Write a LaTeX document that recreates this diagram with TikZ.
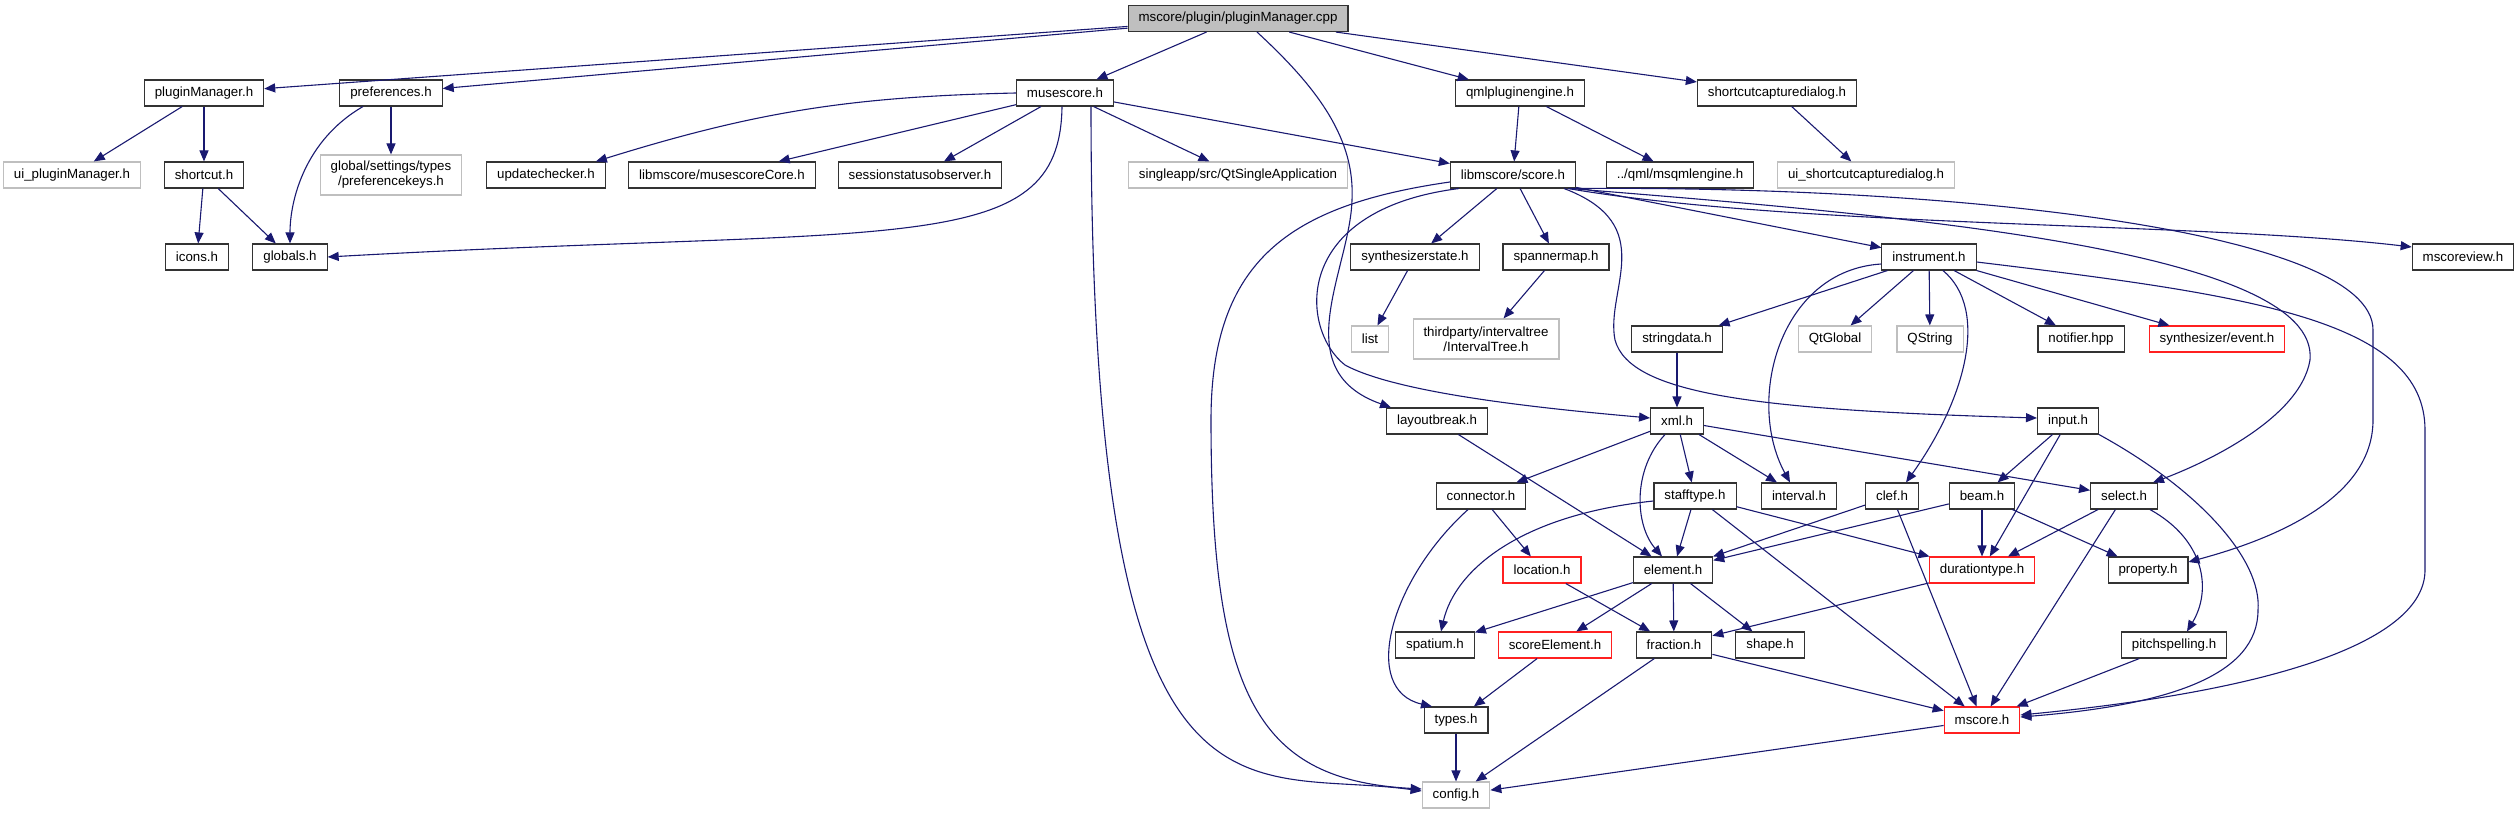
\documentclass[tikz,border=0pt]{standalone}
\usepackage{fontspec}
\setmainfont{Liberation Sans}
\usetikzlibrary{arrows.meta}
\definecolor{edgeblue}{HTML}{191970}
\definecolor{boxgray}{HTML}{BFBFBF}
\definecolor{boxred}{HTML}{FF2020}
\begin{document}
\begin{tikzpicture}[x=1pt, y=-1pt, font=\fontsize{13.3}{15}\selectfont,
  hfile/.style={draw=black!80, line width=1.1pt, fill=white, inner xsep=10.5pt, inner ysep=2pt, minimum height=26pt, align=center},
  sysfile/.style={hfile, draw=boxgray},
  redfile/.style={hfile, draw=boxred},
  srcfile/.style={hfile, fill=boxgray},
  twoline/.style={minimum height=40pt},
  incl/.style={draw=edgeblue, line width=1.1pt, -{Triangle[length=11pt, width=9pt]}}]
  \useasboundingbox (0,0) rectangle (2520,813);

  \node[srcfile] (cpp) at (1238,18.5) {mscore/plugin/pluginManager.cpp};
  \node[hfile] (pmh) at (204,93) {pluginManager.h};
  \node[hfile] (prefs) at (391,93) {preferences.h};
  \node[hfile] (muse) at (1065,93) {musescore.h};
  \node[hfile] (qmleng) at (1520,93) {qmlpluginengine.h};
  \node[hfile] (sccd) at (1777,93) {shortcutcapturedialog.h};
  \node[sysfile] (uipm) at (72,175) {ui\_pluginManager.h};
  \node[hfile] (shortcut) at (204,175) {shortcut.h};
  \node[sysfile, twoline] (prefkeys) at (391,175) {global/settings/types\\/preferencekeys.h};
  \node[hfile] (updchk) at (546,175) {updatechecker.h};
  \node[hfile] (msccore) at (722,175) {libmscore/musescoreCore.h};
  \node[hfile] (sessobs) at (920,175) {sessionstatusobserver.h};
  \node[sysfile] (qtsingle) at (1238,175) {singleapp/src/QtSingleApplication};
  \node[hfile] (score) at (1513,175) {libmscore/score.h};
  \node[hfile] (msqml) at (1680,175) {../qml/msqmlengine.h};
  \node[sysfile] (uisccd) at (1866,175) {ui\_shortcutcapturedialog.h};
  \node[hfile] (icons) at (197,257) {icons.h};
  \node[hfile] (globals) at (290,257) {globals.h};
  \node[hfile] (synthstate) at (1415,257) {synthesizerstate.h};
  \node[hfile] (spanmap) at (1556,257) {spannermap.h};
  \node[hfile] (instr) at (1929,257) {instrument.h};
  \node[hfile] (msview) at (2463,257) {mscoreview.h};
  \node[sysfile] (list) at (1370,339) {list};
  \node[sysfile, twoline] (itree) at (1486,339) {thirdparty/intervaltree\\/IntervalTree.h};
  \node[hfile] (strdata) at (1677,339) {stringdata.h};
  \node[sysfile] (qtglobal) at (1835,339) {QtGlobal};
  \node[sysfile] (qstring) at (1930,339) {QString};
  \node[hfile] (notifier) at (2081,339) {notifier.hpp};
  \node[redfile] (synthev) at (2217,339) {synthesizer/event.h};
  \node[hfile] (lbreak) at (1437,421) {layoutbreak.h};
  \node[hfile] (xml) at (1677,421) {xml.h};
  \node[hfile] (input) at (2068,421) {input.h};
  \node[hfile] (conn) at (1481,496) {connector.h};
  \node[hfile] (stafft) at (1695,496) {stafftype.h};
  \node[hfile] (interval) at (1799,496) {interval.h};
  \node[hfile] (clef) at (1892,496) {clef.h};
  \node[hfile] (beam) at (1982,496) {beam.h};
  \node[hfile] (select) at (2124,496) {select.h};
  \node[redfile] (loc) at (1542,570) {location.h};
  \node[hfile] (element) at (1673,570) {element.h};
  \node[redfile] (durtype) at (1982,570) {durationtype.h};
  \node[hfile] (property) at (2148,570) {property.h};
  \node[hfile] (spatium) at (1435,645) {spatium.h};
  \node[redfile] (scoreel) at (1555,645) {scoreElement.h};
  \node[hfile] (fraction) at (1674,645) {fraction.h};
  \node[hfile] (shape) at (1770,645) {shape.h};
  \node[hfile] (pitch) at (2174,645) {pitchspelling.h};
  \node[hfile] (types) at (1456,720) {types.h};
  \node[redfile] (mscoreh) at (1982,720) {mscore.h};
  \node[sysfile] (config) at (1456,795) {config.h};

  \foreach \a/\b in {cpp/pmh, cpp/prefs, cpp/muse, cpp/qmleng, cpp/sccd,
      pmh/uipm, pmh/shortcut, prefs/prefkeys, shortcut/icons, shortcut/globals,
      muse/msccore, muse/sessobs, muse/qtsingle, muse/score,
      qmleng/score, qmleng/msqml, sccd/uisccd,
      score/synthstate, score/spanmap, score/instr, synthstate/list, spanmap/itree,
      instr/strdata, instr/qtglobal, instr/qstring, instr/notifier, instr/synthev,
      strdata/xml, lbreak/element, xml/conn, xml/stafft, xml/interval, xml/select,
      input/beam, input/durtype, conn/loc,
      stafft/element, stafft/durtype, stafft/mscoreh, clef/element, clef/mscoreh,
      beam/element, beam/durtype, beam/property, select/durtype, select/mscoreh,
      element/spatium, element/scoreel, element/fraction, element/shape,
      loc/fraction, durtype/fraction, scoreel/types,
      fraction/config, fraction/mscoreh, pitch/mscoreh, types/config, mscoreh/config}
    \draw[incl] (\a) -- (\b);

  \draw[incl] ([xshift=19pt]cpp.south) .. controls (1320,90) and (1355,140) .. (1352,200)
    .. controls (1350,270) and (1285,370) .. ([xshift=5pt]lbreak.north west);
  \draw[incl] ([xshift=-28pt]prefs.south) .. controls (305,140) and (290,200) .. (globals.north);
  \draw[incl] (muse.west) to[bend right=8] ([xshift=-10pt]updchk.north east);
  \draw[incl] ([xshift=-3pt]muse.south) .. controls (1060,260) and (900,225) .. (globals.east);
  \draw[incl] ([xshift=26pt]muse.south) .. controls +(0,754) and +(-180,-25) .. ([yshift=4pt]config.west);
  \draw[incl] ([yshift=-7pt]score.west) .. controls (1290,205) and (1211,260) .. (1211,420)
    .. controls (1211,700) and (1260,780) .. ([yshift=6pt]config.west);
  \draw[incl] ([xshift=9pt]score.south west) .. controls (1290,210) and (1300,330) .. (1345,365)
    .. controls (1400,395) and (1560,410) .. ([yshift=3pt]xml.west);
  \draw[incl] ([xshift=-8pt]score.south east) .. controls (1800,228) and (2200,222) .. ([yshift=10pt]msview.west);
  \draw[incl] ([xshift=-6pt]score.south east) .. controls (1900,215) and (2320,250) .. (2310,360)
    .. controls (2300,420) and (2200,465) .. ([xshift=-5pt]select.north east);
  \draw[incl] ([xshift=-6pt]score.south east) .. controls (1950,185) and (2373,230) .. (2373,330)
    -- (2373,420) .. controls (2373,500) and (2270,540) .. ([yshift=8pt]property.east);
  \draw[incl] ([xshift=-12pt]score.south east) .. controls (1660,225) and (1605,290) .. (1615,340)
    .. controls (1630,395) and (1760,410) .. ([yshift=3pt]input.west);
  \draw[incl] ([yshift=-7pt]instr.west) .. controls (1780,270) and (1745,400) .. ([xshift=-9pt]interval.north);
  \draw[incl] ([xshift=14pt]instr.south) .. controls (1990,310) and (1965,400) .. ([xshift=14pt]clef.north);
  \draw[incl] ([yshift=-5pt]instr.east) .. controls (2250,295) and (2425,320) .. (2425,430)
    -- (2425,570) .. controls (2425,640) and (2280,690) .. ([yshift=5pt]mscoreh.east);
  \draw[incl] (input.south east) .. controls (2200,490) and (2262,560) .. (2258,610)
    .. controls (2258,675) and (2170,705) .. ([yshift=3pt]mscoreh.east);
  \draw[incl] ([xshift=-12pt]xml.south) .. controls (1632,470) and (1635,525) .. ([xshift=-11pt]element.north);
  \draw[incl] ([xshift=-13pt]conn.south) .. controls (1390,580) and (1360,690) .. ([xshift=-24pt]types.north);
  \draw[incl] ([yshift=-5pt]stafft.west) .. controls (1520,515) and (1455,570) .. ([xshift=6pt]spatium.north);
  \draw[incl] ([xshift=26pt]select.south) .. controls (2205,540) and (2212,590) .. ([xshift=13pt]pitch.north);
\end{tikzpicture}
\end{document}
